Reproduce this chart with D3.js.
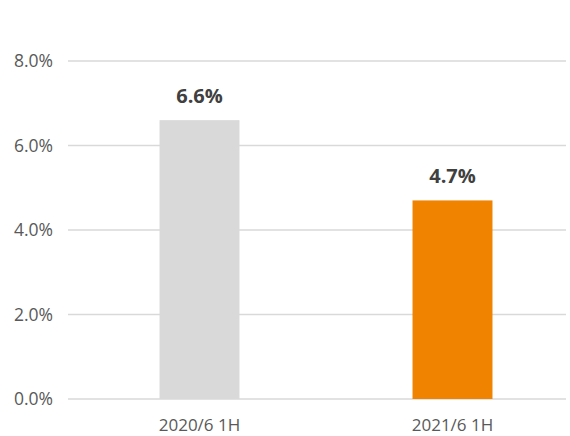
<!DOCTYPE html>
<html>
<head>
<meta charset="utf-8">
<script src="https://cdn.jsdelivr.net/npm/d3@7"></script>
<style>
  body { margin: 0; background: #fff; }
  svg text { font-family: "Open Sans", "Noto Sans", sans-serif; }
</style>
</head>
<body>
<svg id="chart" width="570" height="436"></svg>
<script>
// chart data
const categories = ["2020/6 1H", "2021/6 1H"];
const values = [6.6, 4.7];
const barColors = ["#d9d9d9", "#f08300"];
const yTicks = [0, 2, 4, 6, 8];

const svg = d3.select("#chart");

// scales
const x = d3.scaleBand()
  .domain(categories)
  .range([73, 579])
  .paddingInner(0.684)
  .paddingOuter(0.342);

const y = d3.scaleLinear().domain([0, 8]).range([399, 61]);

// gridlines
svg.append("g")
  .selectAll("line")
  .data(yTicks)
  .enter()
  .append("line")
  .attr("x1", 68)
  .attr("x2", 566)
  .attr("y1", d => y(d))
  .attr("y2", d => y(d))
  .attr("stroke", "#d9d9d9")
  .attr("stroke-width", 1.3);

// y tick labels
svg.append("g")
  .selectAll("text")
  .data(yTicks)
  .enter()
  .append("text")
  .attr("x", 53)
  .attr("y", d => y(d))
  .attr("dy", "0.35em")
  .attr("text-anchor", "end")
  .attr("font-size", 17.5)
  .attr("fill", "#595959")
  .text(d => d.toFixed(1) + "%");

// bars
svg.append("g")
  .selectAll("rect")
  .data(values)
  .enter()
  .append("rect")
  .attr("x", (d, i) => x(categories[i]))
  .attr("y", d => y(d))
  .attr("width", x.bandwidth())
  .attr("height", d => y(0) - y(d))
  .attr("fill", (d, i) => barColors[i]);

// value labels
svg.append("g")
  .selectAll("text")
  .data(values)
  .enter()
  .append("text")
  .attr("x", (d, i) => x(categories[i]) + x.bandwidth() / 2)
  .attr("y", d => y(d) - 17)
  .attr("text-anchor", "middle")
  .attr("font-size", 20)
  .attr("font-weight", "bold")
  .attr("fill", "#404040")
  .text(d => d.toFixed(1) + "%");

// category labels
svg.append("g")
  .selectAll("text")
  .data(categories)
  .enter()
  .append("text")
  .attr("x", d => x(d) + x.bandwidth() / 2)
  .attr("y", 425)
  .attr("dy", "0.35em")
  .attr("text-anchor", "middle")
  .attr("font-size", 17)
  .attr("fill", "#595959")
  .text(d => d);
</script>
</body>
</html>
